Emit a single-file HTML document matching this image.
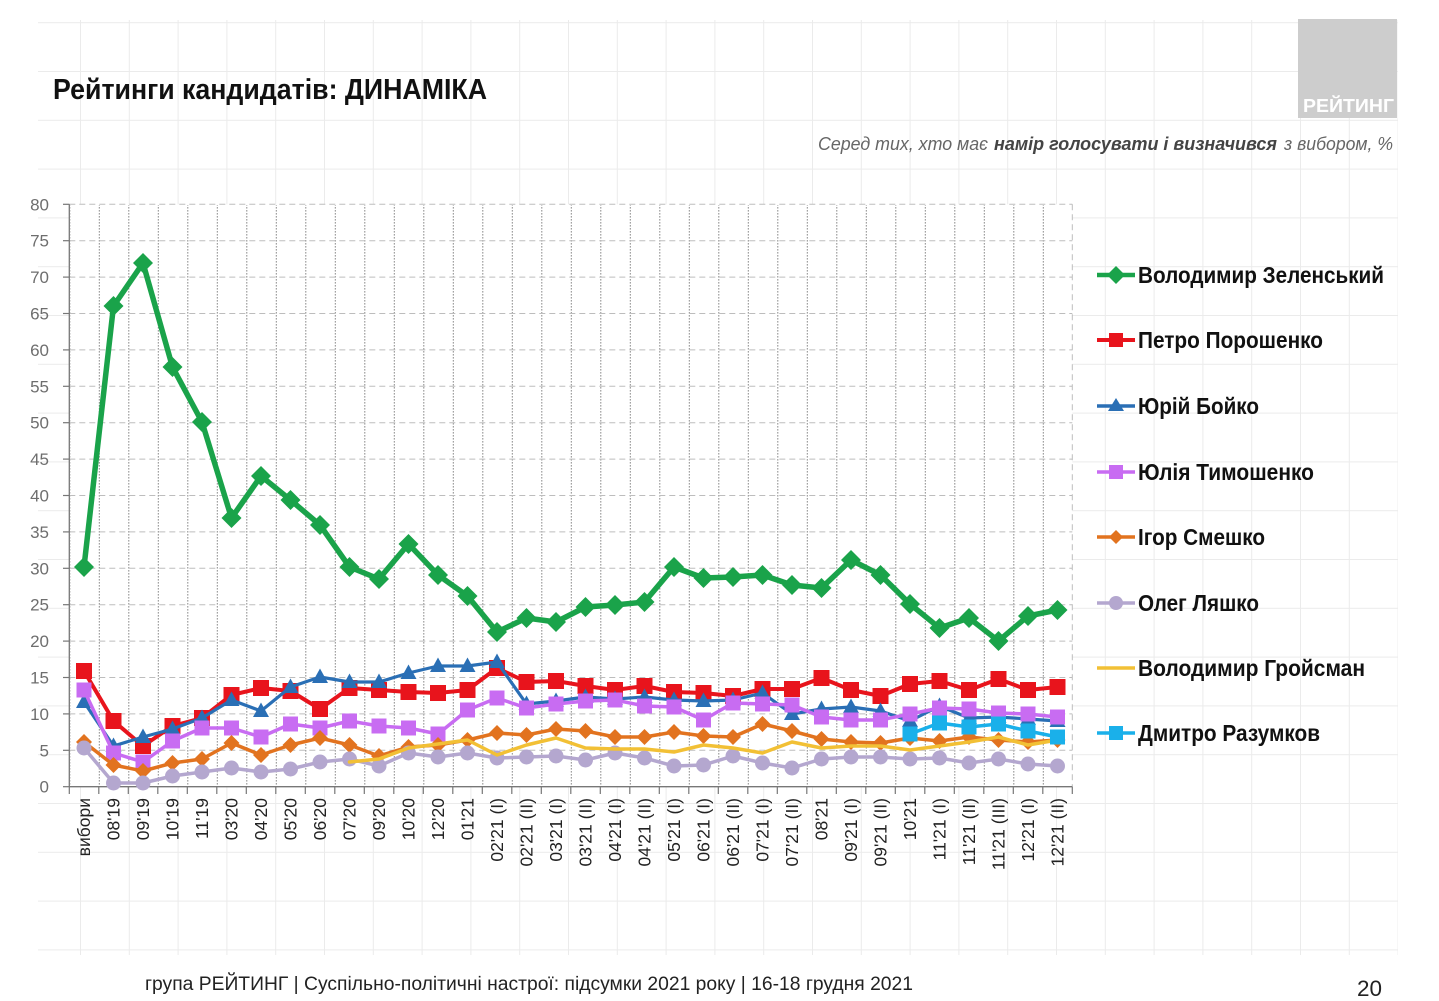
<!DOCTYPE html>
<html>
<head>
<meta charset="utf-8">
<style>
html,body{margin:0;padding:0;background:#fff;}
svg{display:block;}
text{font-family:"Liberation Sans",Arial,sans-serif;}
</style>
</head>
<body>
<svg width="1439" height="1001" viewBox="0 0 1439 1001" xmlns="http://www.w3.org/2000/svg">
<defs>
  <pattern id="bg" patternUnits="userSpaceOnUse" x="1056" y="803" width="48.8" height="48.8">
    <rect x="0" y="0" width="1" height="48.8" fill="#ebebeb"/>
    <rect x="0" y="0" width="48.8" height="1" fill="#ebebeb"/>
  </pattern>
  <pattern id="vg" patternUnits="userSpaceOnUse" x="69.3" y="0" width="29.5" height="3">
    <rect x="0" y="0" width="1" height="1.6" fill="#8a8a8a"/>
  </pattern>
  <marker id="mZ" markerUnits="userSpaceOnUse" markerWidth="24" markerHeight="24" viewBox="-12 -12 24 24" refX="0" refY="0" overflow="visible">
    <polygon points="0,-10 10,0 0,10 -10,0" fill="#1aa34a"/>
  </marker>
  <marker id="mP" markerUnits="userSpaceOnUse" markerWidth="20" markerHeight="20" viewBox="-10 -10 20 20" refX="0" refY="0" overflow="visible">
    <rect x="-8" y="-8" width="16" height="16" fill="#e8141c"/>
  </marker>
  <marker id="mB" markerUnits="userSpaceOnUse" markerWidth="20" markerHeight="20" viewBox="-10 -10 20 20" refX="0" refY="0" overflow="visible">
    <polygon points="0,-8.5 8,6 -8,6" fill="#2a6fb5"/>
  </marker>
  <marker id="mT" markerUnits="userSpaceOnUse" markerWidth="20" markerHeight="20" viewBox="-10 -10 20 20" refX="0" refY="0" overflow="visible">
    <rect x="-7.5" y="-7.5" width="15" height="15" fill="#c86cf2"/>
  </marker>
  <marker id="mS" markerUnits="userSpaceOnUse" markerWidth="20" markerHeight="20" viewBox="-10 -10 20 20" refX="0" refY="0" overflow="visible">
    <polygon points="0,-8 8,0 0,8 -8,0" fill="#e2731f"/>
  </marker>
  <marker id="mL" markerUnits="userSpaceOnUse" markerWidth="20" markerHeight="20" viewBox="-10 -10 20 20" refX="0" refY="0" overflow="visible">
    <circle cx="0" cy="0" r="7.5" fill="#b4a7cf"/>
  </marker>
  <marker id="mR" markerUnits="userSpaceOnUse" markerWidth="20" markerHeight="20" viewBox="-10 -10 20 20" refX="0" refY="0" overflow="visible">
    <rect x="-7.5" y="-7.5" width="15" height="15" fill="#1ab0ea"/>
  </marker>
</defs>

<!-- faint background grid -->
<rect x="38" y="20" width="1360" height="935" fill="url(#bg)"/>

<!-- title -->
<text x="53" y="99" font-size="29" font-weight="bold" fill="#111" textLength="434" lengthAdjust="spacingAndGlyphs">Рейтинги кандидатів: ДИНАМІКА</text>

<!-- logo -->
<rect x="1298" y="19" width="99" height="99" fill="#cdcdcd"/>
<text x="1303" y="112" font-size="18" font-weight="bold" fill="#ffffff" textLength="91" lengthAdjust="spacingAndGlyphs">РЕЙТИНГ</text>

<!-- subtitle -->
<text x="818" y="150" font-size="18" font-style="italic" fill="#666" textLength="170" lengthAdjust="spacingAndGlyphs">Серед тих, хто має</text>
<text x="994" y="150" font-size="18" font-style="italic" font-weight="bold" fill="#444" textLength="283" lengthAdjust="spacingAndGlyphs">намір голосувати і визначився</text>
<text x="1284" y="150" font-size="18" font-style="italic" fill="#666" textLength="109" lengthAdjust="spacingAndGlyphs">з вибором, %</text>

<!-- plot area -->
<rect x="69.3" y="204.3" width="1003" height="582.4" fill="#ffffff"/>
<rect x="70" y="205" width="1002" height="581.5" fill="url(#vg)"/>

<!-- horizontal dashed gridlines -->
<g stroke="#bdbdbd" stroke-width="1" stroke-dasharray="6,4" fill="none">
  <line x1="69.3" y1="750.3" x2="1072.3" y2="750.3"/>
  <line x1="69.3" y1="713.9" x2="1072.3" y2="713.9"/>
  <line x1="69.3" y1="677.5" x2="1072.3" y2="677.5"/>
  <line x1="69.3" y1="641.1" x2="1072.3" y2="641.1"/>
  <line x1="69.3" y1="604.7" x2="1072.3" y2="604.7"/>
  <line x1="69.3" y1="568.3" x2="1072.3" y2="568.3"/>
  <line x1="69.3" y1="531.9" x2="1072.3" y2="531.9"/>
  <line x1="69.3" y1="495.5" x2="1072.3" y2="495.5"/>
  <line x1="69.3" y1="459.1" x2="1072.3" y2="459.1"/>
  <line x1="69.3" y1="422.7" x2="1072.3" y2="422.7"/>
  <line x1="69.3" y1="386.3" x2="1072.3" y2="386.3"/>
  <line x1="69.3" y1="349.9" x2="1072.3" y2="349.9"/>
  <line x1="69.3" y1="313.5" x2="1072.3" y2="313.5"/>
  <line x1="69.3" y1="277.1" x2="1072.3" y2="277.1"/>
  <line x1="69.3" y1="240.7" x2="1072.3" y2="240.7"/>
  <line x1="69.3" y1="204.3" x2="1072.3" y2="204.3"/>
  <line x1="1072.3" y1="204.3" x2="1072.3" y2="786.7"/>
</g>

<!-- axes -->
<g stroke="#777" stroke-width="1.3" fill="none">
  <line x1="69.3" y1="204.3" x2="69.3" y2="787"/>
  <line x1="69.3" y1="786.7" x2="1072.3" y2="786.7"/>
</g>
<g stroke="#777" stroke-width="1.2">
  <line x1="63" y1="786.7" x2="69.3" y2="786.7"/>
  <line x1="63" y1="750.3" x2="69.3" y2="750.3"/>
  <line x1="63" y1="713.9" x2="69.3" y2="713.9"/>
  <line x1="63" y1="677.5" x2="69.3" y2="677.5"/>
  <line x1="63" y1="641.1" x2="69.3" y2="641.1"/>
  <line x1="63" y1="604.7" x2="69.3" y2="604.7"/>
  <line x1="63" y1="568.3" x2="69.3" y2="568.3"/>
  <line x1="63" y1="531.9" x2="69.3" y2="531.9"/>
  <line x1="63" y1="495.5" x2="69.3" y2="495.5"/>
  <line x1="63" y1="459.1" x2="69.3" y2="459.1"/>
  <line x1="63" y1="422.7" x2="69.3" y2="422.7"/>
  <line x1="63" y1="386.3" x2="69.3" y2="386.3"/>
  <line x1="63" y1="349.9" x2="69.3" y2="349.9"/>
  <line x1="63" y1="313.5" x2="69.3" y2="313.5"/>
  <line x1="63" y1="277.1" x2="69.3" y2="277.1"/>
  <line x1="63" y1="240.7" x2="69.3" y2="240.7"/>
  <line x1="63" y1="204.3" x2="69.3" y2="204.3"/>
</g>
<!-- x ticks -->
<g stroke="#777" stroke-width="1.2">
  <line x1="69.3" y1="786.7" x2="69.3" y2="794"/>
  <line x1="98.8" y1="786.7" x2="98.8" y2="794"/>
  <line x1="128.3" y1="786.7" x2="128.3" y2="794"/>
  <line x1="157.8" y1="786.7" x2="157.8" y2="794"/>
  <line x1="187.3" y1="786.7" x2="187.3" y2="794"/>
  <line x1="216.8" y1="786.7" x2="216.8" y2="794"/>
  <line x1="246.3" y1="786.7" x2="246.3" y2="794"/>
  <line x1="275.8" y1="786.7" x2="275.8" y2="794"/>
  <line x1="305.3" y1="786.7" x2="305.3" y2="794"/>
  <line x1="334.8" y1="786.7" x2="334.8" y2="794"/>
  <line x1="364.3" y1="786.7" x2="364.3" y2="794"/>
  <line x1="393.8" y1="786.7" x2="393.8" y2="794"/>
  <line x1="423.3" y1="786.7" x2="423.3" y2="794"/>
  <line x1="452.8" y1="786.7" x2="452.8" y2="794"/>
  <line x1="482.3" y1="786.7" x2="482.3" y2="794"/>
  <line x1="511.8" y1="786.7" x2="511.8" y2="794"/>
  <line x1="541.3" y1="786.7" x2="541.3" y2="794"/>
  <line x1="570.8" y1="786.7" x2="570.8" y2="794"/>
  <line x1="600.3" y1="786.7" x2="600.3" y2="794"/>
  <line x1="629.8" y1="786.7" x2="629.8" y2="794"/>
  <line x1="659.3" y1="786.7" x2="659.3" y2="794"/>
  <line x1="688.8" y1="786.7" x2="688.8" y2="794"/>
  <line x1="718.3" y1="786.7" x2="718.3" y2="794"/>
  <line x1="747.8" y1="786.7" x2="747.8" y2="794"/>
  <line x1="777.3" y1="786.7" x2="777.3" y2="794"/>
  <line x1="806.8" y1="786.7" x2="806.8" y2="794"/>
  <line x1="836.3" y1="786.7" x2="836.3" y2="794"/>
  <line x1="865.8" y1="786.7" x2="865.8" y2="794"/>
  <line x1="895.3" y1="786.7" x2="895.3" y2="794"/>
  <line x1="924.8" y1="786.7" x2="924.8" y2="794"/>
  <line x1="954.3" y1="786.7" x2="954.3" y2="794"/>
  <line x1="983.8" y1="786.7" x2="983.8" y2="794"/>
  <line x1="1013.3" y1="786.7" x2="1013.3" y2="794"/>
  <line x1="1042.8" y1="786.7" x2="1042.8" y2="794"/>
  <line x1="1072.3" y1="786.7" x2="1072.3" y2="794"/>
</g>

<!-- y labels -->
<g font-size="17" fill="#6e6e6e" text-anchor="end">
  <text x="49" y="792.7">0</text>
  <text x="49" y="756.3">5</text>
  <text x="49" y="719.9">10</text>
  <text x="49" y="683.5">15</text>
  <text x="49" y="647.1">20</text>
  <text x="49" y="610.7">25</text>
  <text x="49" y="574.3">30</text>
  <text x="49" y="537.9">35</text>
  <text x="49" y="501.5">40</text>
  <text x="49" y="465.1">45</text>
  <text x="49" y="428.7">50</text>
  <text x="49" y="392.3">55</text>
  <text x="49" y="355.9">60</text>
  <text x="49" y="319.5">65</text>
  <text x="49" y="283.1">70</text>
  <text x="49" y="246.7">75</text>
  <text x="49" y="210.3">80</text>
</g>

<!-- x labels -->
<g font-size="17.5" fill="#222" text-anchor="end">
  <text transform="translate(90,798) rotate(-90)">вибори</text>
  <text transform="translate(119.5,798) rotate(-90)">08'19</text>
  <text transform="translate(149,798) rotate(-90)">09'19</text>
  <text transform="translate(178.5,798) rotate(-90)">10'19</text>
  <text transform="translate(208,798) rotate(-90)">11'19</text>
  <text transform="translate(237.5,798) rotate(-90)">03'20</text>
  <text transform="translate(267,798) rotate(-90)">04'20</text>
  <text transform="translate(296.5,798) rotate(-90)">05'20</text>
  <text transform="translate(326,798) rotate(-90)">06'20</text>
  <text transform="translate(355.5,798) rotate(-90)">07'20</text>
  <text transform="translate(385,798) rotate(-90)">09'20</text>
  <text transform="translate(414.5,798) rotate(-90)">10'20</text>
  <text transform="translate(444,798) rotate(-90)">12'20</text>
  <text transform="translate(473.5,798) rotate(-90)">01'21</text>
  <text transform="translate(503,798) rotate(-90)">02'21 (I)</text>
  <text transform="translate(532.5,798) rotate(-90)">02'21 (II)</text>
  <text transform="translate(562,798) rotate(-90)">03'21 (I)</text>
  <text transform="translate(591.5,798) rotate(-90)">03'21 (II)</text>
  <text transform="translate(621,798) rotate(-90)">04'21 (I)</text>
  <text transform="translate(650.5,798) rotate(-90)">04'21 (II)</text>
  <text transform="translate(680,798) rotate(-90)">05'21 (I)</text>
  <text transform="translate(709.5,798) rotate(-90)">06'21 (I)</text>
  <text transform="translate(739,798) rotate(-90)">06'21 (II)</text>
  <text transform="translate(768.5,798) rotate(-90)">07'21 (I)</text>
  <text transform="translate(798,798) rotate(-90)">07'21 (II)</text>
  <text transform="translate(827.5,798) rotate(-90)">08'21</text>
  <text transform="translate(857,798) rotate(-90)">09'21 (I)</text>
  <text transform="translate(886.5,798) rotate(-90)">09'21 (II)</text>
  <text transform="translate(916,798) rotate(-90)">10'21</text>
  <text transform="translate(945.5,798) rotate(-90)">11'21 (I)</text>
  <text transform="translate(975,798) rotate(-90)">11'21 (II)</text>
  <text transform="translate(1004.5,798) rotate(-90)">11'21 (III)</text>
  <text transform="translate(1034,798) rotate(-90)">12'21 (I)</text>
  <text transform="translate(1063.5,798) rotate(-90)">12'21 (II)</text>
</g>

<!-- series -->
<g fill="none" stroke-linejoin="round" stroke-linecap="round">
  <polyline stroke="#1aa34a" stroke-width="5.5" marker-start="url(#mZ)" marker-mid="url(#mZ)" marker-end="url(#mZ)"
    points="84,567 113.5,306 143,263 172.5,367 202,422 231.5,518 261,476 290.5,500 320,525 349.5,567 379,579 408.5,544 438,575 467.5,596 497,632 526.5,618 556,622 585.5,607 615,605 644.5,602 674,567 703.5,578 733,577 762.5,575 792,585 821.5,588 851,560 880.5,575 910,604 939.5,628 969,618 998.5,641 1028,616 1057.5,610"/>
  <polyline stroke="#e8141c" stroke-width="4" marker-start="url(#mP)" marker-mid="url(#mP)" marker-end="url(#mP)"
    points="84,671 113.5,721 143,746 172.5,726 202,718 231.5,695 261,688 290.5,691 320,709 349.5,688 379,690 408.5,692 438,693 467.5,690 497,668 526.5,682 556,681 585.5,686 615,690 644.5,686 674,692 703.5,693 733,696 762.5,689 792,689 821.5,678 851,690 880.5,696 910,684 939.5,681 969,690 998.5,679 1028,690 1057.5,687"/>
  <polyline stroke="#2a6fb5" stroke-width="3.2" marker-start="url(#mB)" marker-mid="url(#mB)" marker-end="url(#mB)"
    points="84,702 113.5,746 143,737 172.5,729 202,718 231.5,700 261,711 290.5,687 320,677 349.5,682 379,682 408.5,673 438,666 467.5,666 497,662 526.5,704 556,701 585.5,697 615,699 644.5,697 674,700 703.5,701 733,700 762.5,693 792,714 821.5,709 851,707 880.5,711 910,721 939.5,706 969,718 998.5,717 1028,719 1057.5,721"/>
  <polyline stroke="#c86cf2" stroke-width="3.5" marker-start="url(#mT)" marker-mid="url(#mT)" marker-end="url(#mT)"
    points="84,690 113.5,753 143,762 172.5,741 202,728 231.5,728 261,737 290.5,724 320,728 349.5,721 379,726 408.5,728 438,734 467.5,710 497,698 526.5,708 556,704 585.5,701 615,700 644.5,706 674,707 703.5,720 733,703 762.5,704 792,705 821.5,717 851,720 880.5,720 910,714 939.5,708 969,709 998.5,713 1028,714 1057.5,717"/>
  <polyline stroke="#e2731f" stroke-width="3.5" marker-start="url(#mS)" marker-mid="url(#mS)" marker-end="url(#mS)"
    points="84,742 113.5,765 143,771 172.5,763 202,759 231.5,743 261,755 290.5,745 320,738 349.5,745 379,756 408.5,747 438,745 467.5,740 497,733 526.5,735 556,729 585.5,731 615,737 644.5,737 674,732 703.5,736 733,737 762.5,724 792,731 821.5,739 851,742 880.5,743 910,738 939.5,741 969,737 998.5,740 1028,742 1057.5,740"/>
  <polyline stroke="#b4a7cf" stroke-width="3.5" marker-start="url(#mL)" marker-mid="url(#mL)" marker-end="url(#mL)"
    points="84,748 113.5,783 143,783 172.5,776 202,772 231.5,768 261,772 290.5,769 320,762 349.5,759 379,766 408.5,753 438,757 467.5,753 497,758 526.5,757 556,756 585.5,760 615,753 644.5,758 674,766 703.5,765 733,756 762.5,763 792,768 821.5,759 851,757 880.5,757 910,759 939.5,758 969,763 998.5,759 1028,764 1057.5,766"/>
  <polyline stroke="#f2c035" stroke-width="3.5"
    points="349.5,762 379,759 408.5,748 438,744 467.5,740 497,755 526.5,745 556,738 585.5,748 615,749 644.5,749 674,752 703.5,745 733,748 762.5,753 792,742 821.5,748 851,746 880.5,746 910,750 939.5,746 969,742 998.5,737 1028,745 1057.5,740"/>
  <polyline stroke="#1ab0ea" stroke-width="3.5" marker-start="url(#mR)" marker-mid="url(#mR)" marker-end="url(#mR)"
    points="910,734 939.5,723 969,727 998.5,724 1028,731 1057.5,737"/>
</g>

<!-- legend -->
<g stroke-linecap="butt">
  <line x1="1097" y1="275" x2="1135" y2="275" stroke="#1aa34a" stroke-width="4.5"/>
  <polygon points="1116,266 1125,275 1116,284 1107,275" fill="#1aa34a"/>
  <line x1="1097" y1="340" x2="1135" y2="340" stroke="#e8141c" stroke-width="4"/>
  <rect x="1109" y="333" width="14" height="14" fill="#e8141c"/>
  <line x1="1097" y1="406" x2="1135" y2="406" stroke="#2a6fb5" stroke-width="3.5"/>
  <polygon points="1116,398 1124,411 1108,411" fill="#2a6fb5"/>
  <line x1="1097" y1="472" x2="1135" y2="472" stroke="#c86cf2" stroke-width="3.5"/>
  <rect x="1109" y="465" width="14" height="14" fill="#c86cf2"/>
  <line x1="1097" y1="537" x2="1135" y2="537" stroke="#e2731f" stroke-width="3.5"/>
  <polygon points="1116,530 1123,537 1116,544 1109,537" fill="#e2731f"/>
  <line x1="1097" y1="603" x2="1135" y2="603" stroke="#b4a7cf" stroke-width="3.5"/>
  <circle cx="1116" cy="603" r="7" fill="#b4a7cf"/>
  <line x1="1097" y1="668" x2="1135" y2="668" stroke="#f2c035" stroke-width="3.5"/>
  <line x1="1097" y1="733" x2="1135" y2="733" stroke="#1ab0ea" stroke-width="3.5"/>
  <rect x="1109" y="726" width="14" height="14" fill="#1ab0ea"/>
</g>
<g font-size="23" font-weight="bold" fill="#111">
  <text x="1138" y="283" textLength="246" lengthAdjust="spacingAndGlyphs">Володимир Зеленський</text>
  <text x="1138" y="348" textLength="185" lengthAdjust="spacingAndGlyphs">Петро Порошенко</text>
  <text x="1138" y="414" textLength="121" lengthAdjust="spacingAndGlyphs">Юрій Бойко</text>
  <text x="1138" y="480" textLength="176" lengthAdjust="spacingAndGlyphs">Юлія Тимошенко</text>
  <text x="1138" y="545" textLength="127" lengthAdjust="spacingAndGlyphs">Ігор Смешко</text>
  <text x="1138" y="611" textLength="121" lengthAdjust="spacingAndGlyphs">Олег Ляшко</text>
  <text x="1138" y="676" textLength="227" lengthAdjust="spacingAndGlyphs">Володимир Гройсман</text>
  <text x="1138" y="741" textLength="182" lengthAdjust="spacingAndGlyphs">Дмитро Разумков</text>
</g>

<!-- footer -->
<text x="145" y="990" font-size="19" fill="#222" textLength="768" lengthAdjust="spacingAndGlyphs">група РЕЙТИНГ | Суспільно-політичні настрої: підсумки 2021 року | 16-18 грудня 2021</text>
<text x="1357" y="996" font-size="22" fill="#222" textLength="25" lengthAdjust="spacingAndGlyphs">20</text>
</svg>
</body>
</html>
